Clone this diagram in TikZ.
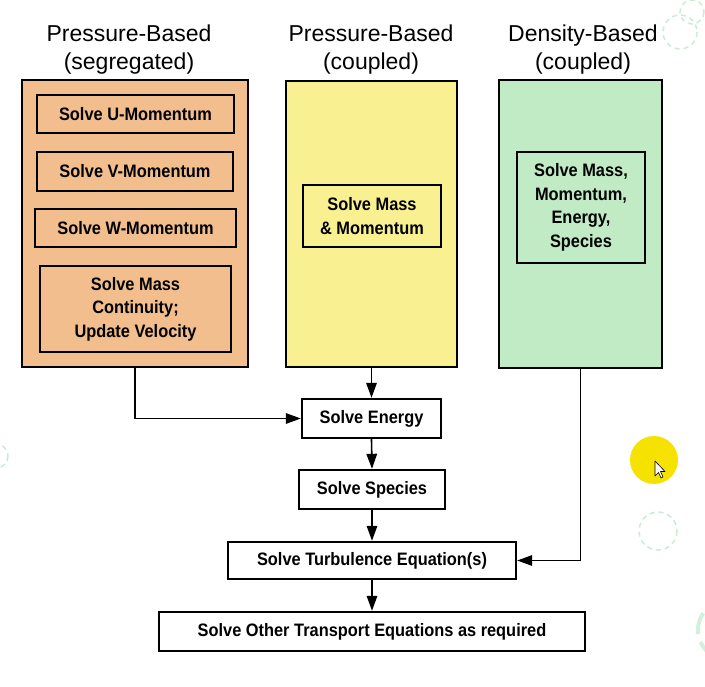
\documentclass[tikz,border=0pt]{standalone}
\usepackage{fontspec}
\setmainfont{Liberation Sans}
\newfontfamily\boxfont[FakeStretch=0.91]{Liberation Sans}
\usetikzlibrary{shapes,arrows.meta,positioning,calc}
\definecolor{panelorange}{RGB}{242,190,142}
\definecolor{panelyellow}{RGB}{249,240,146}
\definecolor{panelgreen}{RGB}{192,235,196}
\definecolor{decogreen}{RGB}{200,236,214}
\definecolor{cursoryellow}{RGB}{246,226,0}

\begin{document}
\begin{tikzpicture}[x=1pt, y=-1pt,
    heading/.style={align=center, font=\fontsize{23}{28}\selectfont},
    panel/.style={draw, line width=2.8pt, inner sep=0pt},
    stepbox/.style={draw, line width=2pt, inner sep=0pt, align=center,
      font=\boxfont\fontsize{18}{23.5}\selectfont\bfseries},
    flowbox/.style={stepbox, line width=2.4pt, fill=white},
    flow/.style={line width=1.6pt, -{Triangle[length=15pt,width=10.5pt]}}]
  \useasboundingbox (0,0) rectangle (705,687);

  % headings
  \node[heading] (headseg) at (129,50) {Pressure-Based\\(segregated)};
  \node[heading] (headpc)  at (371,50) {Pressure-Based\\(coupled)};
  \node[heading] (headdc)  at (583,50) {Density-Based\\(coupled)};

  % segregated panel
  \node[panel, fill=panelorange, minimum width=226, minimum height=287] (seg) at (135,223.5) {};
  \node[stepbox, minimum width=197, minimum height=38] (umom) at (135.5,114) {Solve U-Momentum};
  \node[stepbox, minimum width=196, minimum height=39] (vmom) at (135,171.5) {Solve V-Momentum};
  \node[stepbox, minimum width=201, minimum height=38] (wmom) at (135.5,228) {Solve W-Momentum};
  \node[stepbox, minimum width=191, minimum height=86] (mass) at (135.5,309)
    {Solve Mass\\Continuity;\\Update Velocity};

  % pressure-based coupled panel
  \node[panel, fill=panelyellow, minimum width=171, minimum height=286] (pc) at (371.5,224) {};
  \node[stepbox, minimum width=138, minimum height=62] (massmom) at (372,216)
    {Solve Mass\\\& Momentum};

  % density-based coupled panel
  \node[panel, fill=panelgreen, minimum width=163, minimum height=288] (dc) at (580.5,224) {};
  \node[stepbox, minimum width=128, minimum height=111] (allvars) at (581,207.5)
    {Solve Mass,\\Momentum,\\Energy,\\Species};

  % common steps
  \node[flowbox, minimum width=139, minimum height=39] (energy)  at (371.5,418.5) {Solve Energy};
  \node[flowbox, minimum width=146, minimum height=39] (species) at (372,489.5) {Solve Species};
  \node[flowbox, minimum width=288, minimum height=37] (turb)    at (372,560.5) {Solve Turbulence Equation(s)};
  \node[flowbox, minimum width=426, minimum height=39] (other)   at (372,631.5)
    {Solve Other Transport Equations as required};

  % connectors
  \draw[flow] (pc.south) -- (energy.north);
  \draw[flow] (seg.south) |- (energy.west);
  \draw[flow] (energy.south) -- (species.north);
  \draw[flow] (species.south) -- (turb.north);
  \draw[flow] (dc.south) |- (turb.east);
  \draw[flow] (turb.south) -- (other.north);

  % screen decorations
  \draw[decogreen, line width=1.5pt, dash pattern=on 5pt off 4pt] (680,32) circle (17);
  \draw[decogreen, line width=1.5pt, dash pattern=on 5pt off 4pt] (692,12) circle (12);
  \draw[decogreen, line width=1.5pt, dash pattern=on 5pt off 4pt] (-4,456) circle (12);
  \draw[decogreen, line width=1.5pt, dash pattern=on 5pt off 4pt] (658,531) circle (19);
  \draw[decogreen!80, line width=4pt, dash pattern=on 22pt off 8pt] (728,630) circle (30);
  \fill[cursoryellow] (654,460) circle (24);
  \draw[fill=white, line width=0.6pt, line join=round]
    (655,461) -- (655,476) -- (658.5,472.5) -- (661,478) -- (663,477) -- (660.5,471.5) -- (665,471.5) -- cycle;
\end{tikzpicture}
\end{document}
